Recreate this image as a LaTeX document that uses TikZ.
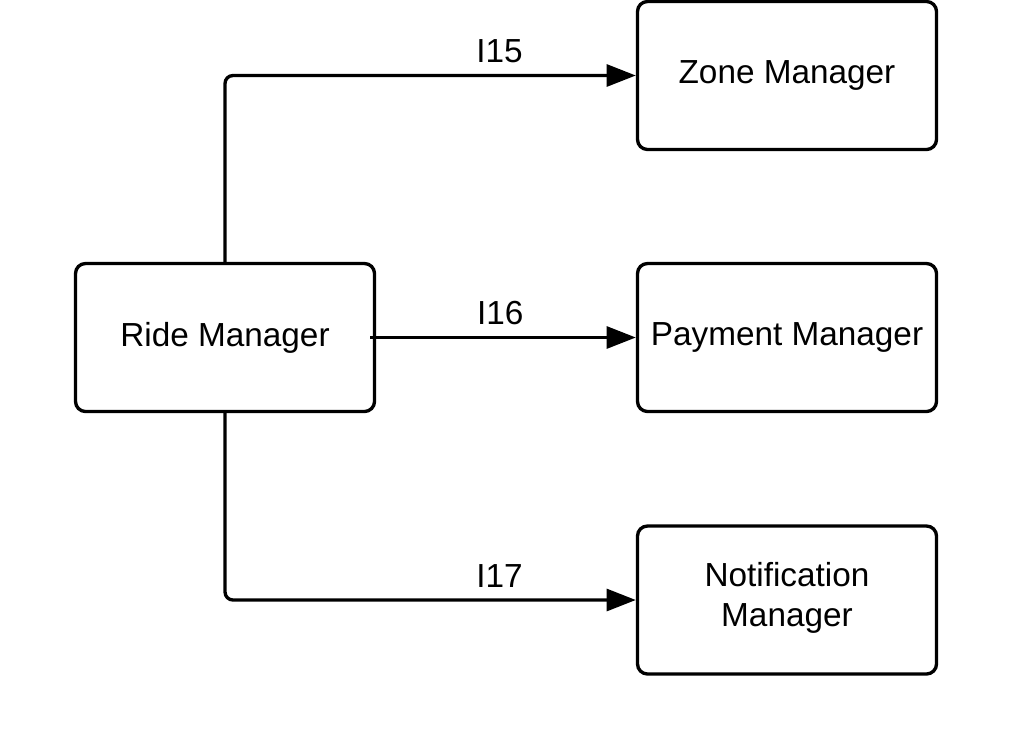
\documentclass[tikz,border=0pt]{standalone}
\usepackage{fontspec}
\setmainfont{Liberation Sans}
\usepackage{tikz}
\usetikzlibrary{arrows.meta}

\newcommand{\boxfont}{\fontsize{25pt}{30pt}\selectfont}

\begin{document}
\begin{tikzpicture}[x=0.75pt,y=0.75pt,
  box/.style={draw=black, rounded corners=7.5pt, line width=2.5pt, inner sep=2pt,
    minimum width=224.25pt, minimum height=111pt, align=center, font=\boxfont},
  link/.style={draw=black, line width=2.5pt, rounded corners=6pt,
    -{Triangle[length=22pt,width=16.5pt]}},
  tag/.style={above=8pt, inner sep=0pt, font=\boxfont}]
\useasboundingbox (0,0) rectangle (1013,-750);
\node [box] (ride) at (225,-337.5) {Ride Manager};
\node [box] (zone) at (787,-75.5) {Zone Manager};
\node [box] (payment) at (787,-337.5) {Payment Manager};
\node [box, text depth=8pt] (notification) at (787,-600) {Notification\\Manager};
\draw [link] (ride.north) |- (zone.west) node [tag, pos=0.834] {I15};
\draw [link] ([xshift=-4.5pt]ride.east) -- (payment.west) node [tag, pos=0.49] {I16};
\draw [link] (ride.south) |- (notification.west) node [tag, pos=0.834] {I17};
\end{tikzpicture}
\end{document}
